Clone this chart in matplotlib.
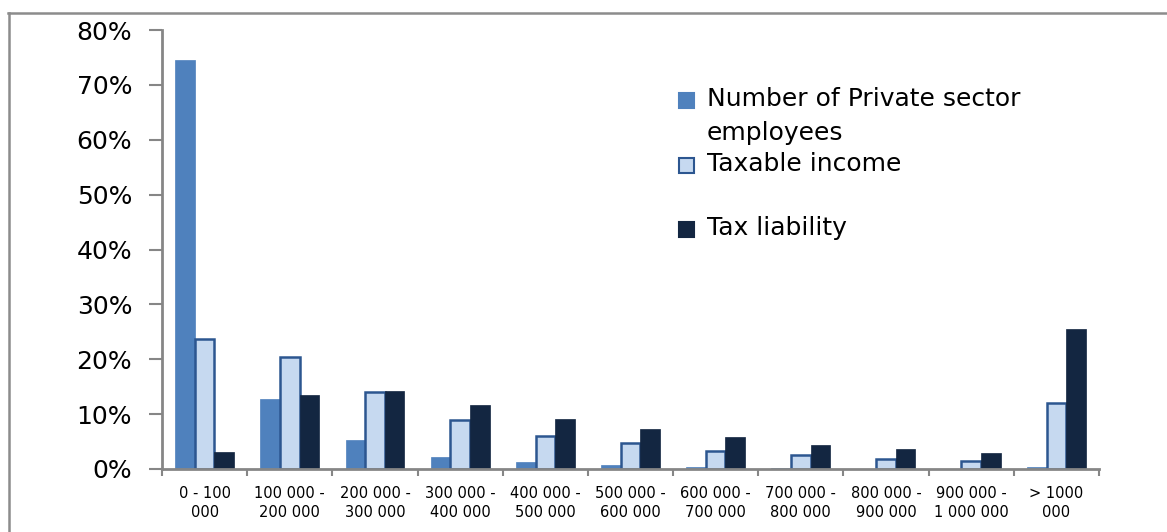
import matplotlib.pyplot as plt
import numpy as np
from matplotlib.lines import Line2D
from matplotlib.patches import Rectangle
from matplotlib.ticker import FixedLocator, PercentFormatter

# Income brackets and shares (fraction of total)
brackets = ['0 - 100\n000', '100 000 -\n200 000', '200 000 -\n300 000', '300 000 -\n400 000',
            '400 000 -\n500 000', '500 000 -\n600 000', '600 000 -\n700 000', '700 000 -\n800 000',
            '800 000 -\n900 000', '900 000 -\n1 000 000', '> 1000\n000']
employees = [0.746, 0.128, 0.052, 0.022, 0.012, 0.008, 0.004, 0.001, 0.0005, 0.0005, 0.004]
taxable_income = [0.237, 0.204, 0.141, 0.090, 0.061, 0.048, 0.033, 0.026, 0.019, 0.015, 0.120]
tax_liability = [0.031, 0.135, 0.143, 0.117, 0.091, 0.073, 0.058, 0.044, 0.037, 0.030, 0.255]

series_labels = ['Number of Private sector\nemployees', 'Taxable income', 'Tax liability']

C_BLUE = '#4f81bd'
C_LIGHT = '#c6d9f0'
C_LIGHT_EDGE = '#2c5690'
C_DARK = '#132641'
C_AXIS = '#868686'

plt.rcParams['font.family'] = ['DejaVu Sans']

W, H = 1167, 532
fig = plt.figure(figsize=(W / 100, H / 100), dpi=100)
ax = fig.add_axes([162 / W, 1 - 469 / H, (1099 - 162) / W, (469 - 30) / H])

x = np.arange(len(brackets))
bw = 0.23
ax.bar(x - bw, employees, bw, color=C_BLUE, edgecolor=C_BLUE, linewidth=0.5)
ax.bar(x, taxable_income, bw, color=C_LIGHT, edgecolor=C_LIGHT_EDGE, linewidth=1.8)
ax.bar(x + bw, tax_liability, bw, color=C_DARK, edgecolor=C_DARK, linewidth=0.5)

ax.set_xlim(-0.5, len(brackets) - 0.5)
ax.set_ylim(0, 0.8)

# y axis
ax.set_yticks(np.arange(0, 0.81, 0.1))
ax.yaxis.set_major_formatter(PercentFormatter(1.0, decimals=0))
ax.tick_params(axis='y', direction='out', length=9.5, width=1.5, color=C_AXIS,
               labelsize=18, pad=12, labelcolor='black')

# x axis: ticks at bracket boundaries, labels at centres
ax.xaxis.set_major_locator(FixedLocator(np.arange(-0.5, len(brackets), 1.0)))
ax.xaxis.set_minor_locator(FixedLocator(x))
ax.set_xticklabels([''] * (len(brackets) + 1))
ax.set_xticklabels(brackets, minor=True)
ax.tick_params(axis='x', which='major', direction='out', length=5, width=1.5, color=C_AXIS)
ax.tick_params(axis='x', which='minor', length=0, labelsize=10.5, pad=12)
for lbl in ax.get_xticklabels(minor=True):
    lbl.set_linespacing(1.4)

for side in ['top', 'right']:
    ax.spines[side].set_visible(False)
for side in ['left', 'bottom']:
    ax.spines[side].set_color(C_AXIS)
    ax.spines[side].set_linewidth(2)

# legend drawn by hand
def px(xp, yp):
    return xp / W, 1 - yp / H

legend_rows = [
    (series_labels[0], C_BLUE, C_BLUE, 100),
    (series_labels[1], C_LIGHT, C_LIGHT_EDGE, 165),
    (series_labels[2], C_DARK, C_DARK, 229),
]
for label, face, edge, yc in legend_rows:
    x0, y0 = px(679, yc + 8)
    fig.add_artist(Rectangle((x0, y0), 15 / W, 15 / H, transform=fig.transFigure,
                             facecolor=face, edgecolor=edge, linewidth=1.5))
    tx, ty = px(707, yc - 13)
    fig.text(tx, ty, label, fontsize=18, va='top', ha='left', linespacing=1.52)

# chart frame
fig.add_artist(Line2D([8 / W, 1.0], [1 - 13 / H, 1 - 13 / H], transform=fig.transFigure,
                      color='#8c8c8c', linewidth=1.8))
fig.add_artist(Line2D([9 / W, 9 / W], [0.0, 1 - 13 / H], transform=fig.transFigure,
                      color='#8c8c8c', linewidth=1.8))

fig.savefig('out.png', dpi=100)
